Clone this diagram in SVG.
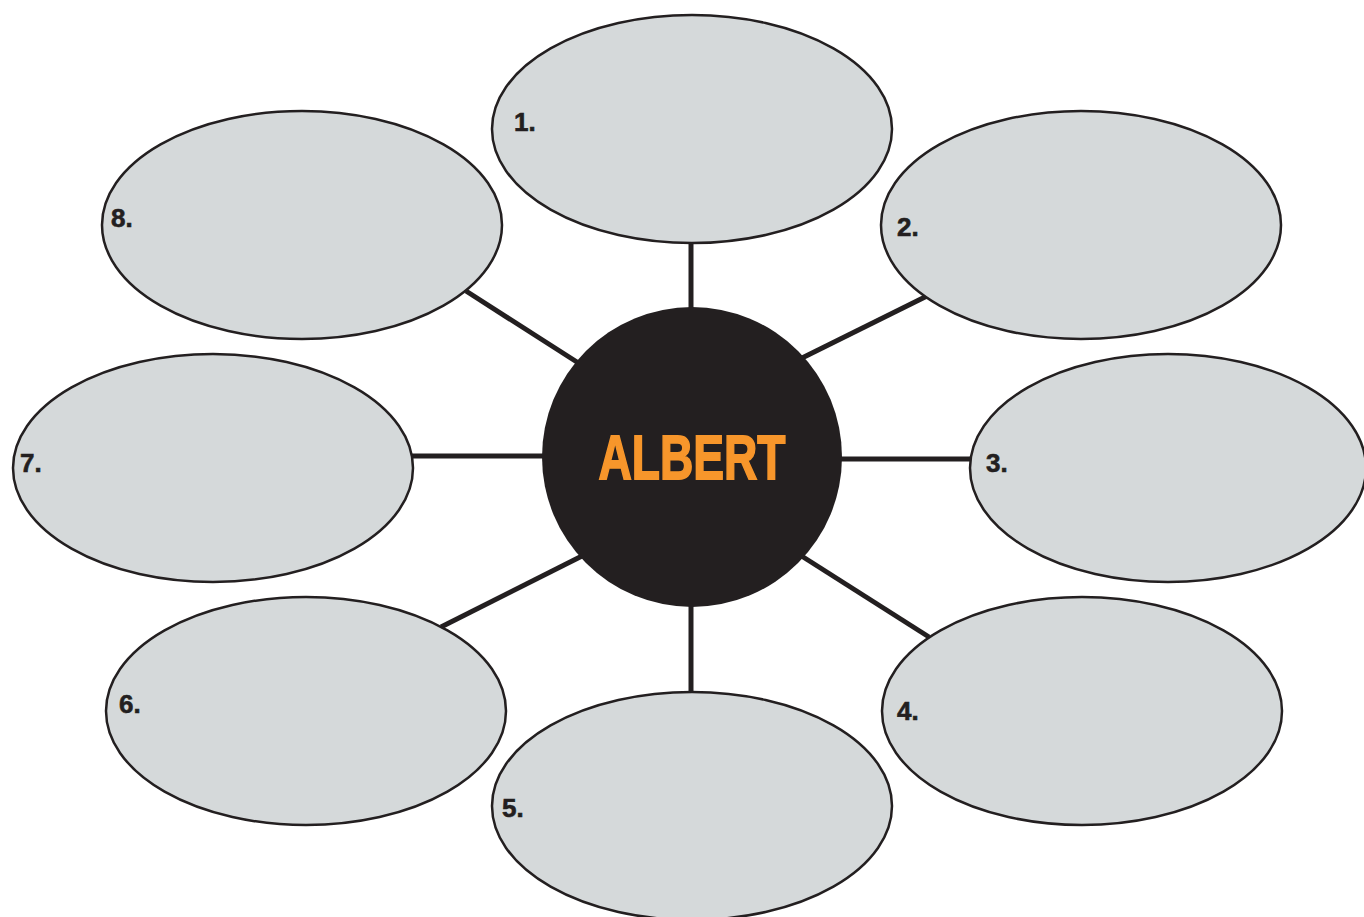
<svg xmlns="http://www.w3.org/2000/svg" width="1364" height="917" viewBox="0 0 1364 917">
<style>
.bubble{fill:#D5D9DA;stroke:#231F20;stroke-width:2.5}
.hub{fill:#231F20}
.link{stroke:#231F20;stroke-width:5;fill:none}
.num{font-family:"Liberation Sans",Arial,sans-serif;font-weight:bold;font-size:26px;fill:#231F20;stroke:#231F20;stroke-width:0.6}
.title{font-family:"Liberation Sans",Arial,sans-serif;font-weight:bold;font-size:63px;fill:#F7962B;stroke:#F7962B;stroke-width:1.8}
</style>
<rect width="1364" height="917" fill="#FFFFFF"/>
<g id="connectors">
<line class="link" x1="691" y1="243" x2="691" y2="310"/>
<line class="link" x1="927" y1="296" x2="800" y2="359"/>
<line class="link" x1="838" y1="459" x2="971" y2="459"/>
<line class="link" x1="800" y1="555" x2="929" y2="637"/>
<line class="link" x1="691" y1="604" x2="691" y2="693"/>
<line class="link" x1="584" y1="555" x2="441" y2="627"/>
<line class="link" x1="412" y1="456" x2="546" y2="456"/>
<line class="link" x1="466" y1="291" x2="580" y2="364"/>
</g>
<g id="n1"><ellipse class="bubble" cx="692" cy="129" rx="200" ry="114"/><text class="num" x="514" y="131">1.</text></g>
<g id="n2"><ellipse class="bubble" cx="1081" cy="225" rx="200" ry="114"/><text class="num" x="897" y="236">2.</text></g>
<g id="n3"><ellipse class="bubble" cx="1168" cy="468" rx="198" ry="114"/><text class="num" x="986" y="472">3.</text></g>
<g id="n4"><ellipse class="bubble" cx="1082" cy="711" rx="200" ry="114"/><text class="num" x="897" y="720">4.</text></g>
<g id="n5"><ellipse class="bubble" cx="692" cy="806" rx="200" ry="114"/><text class="num" x="502" y="817">5.</text></g>
<g id="n6"><ellipse class="bubble" cx="306" cy="711" rx="200" ry="114"/><text class="num" x="119" y="713">6.</text></g>
<g id="n7"><ellipse class="bubble" cx="213" cy="468" rx="200" ry="114"/><text class="num" x="20" y="472">7.</text></g>
<g id="n8"><ellipse class="bubble" cx="302" cy="225" rx="200" ry="114"/><text class="num" x="111" y="227">8.</text></g>
<g id="hub"><circle class="hub" cx="692" cy="457" r="150"/><text class="title" x="692" y="479" text-anchor="middle" textLength="187" lengthAdjust="spacingAndGlyphs">ALBERT</text></g>
</svg>
